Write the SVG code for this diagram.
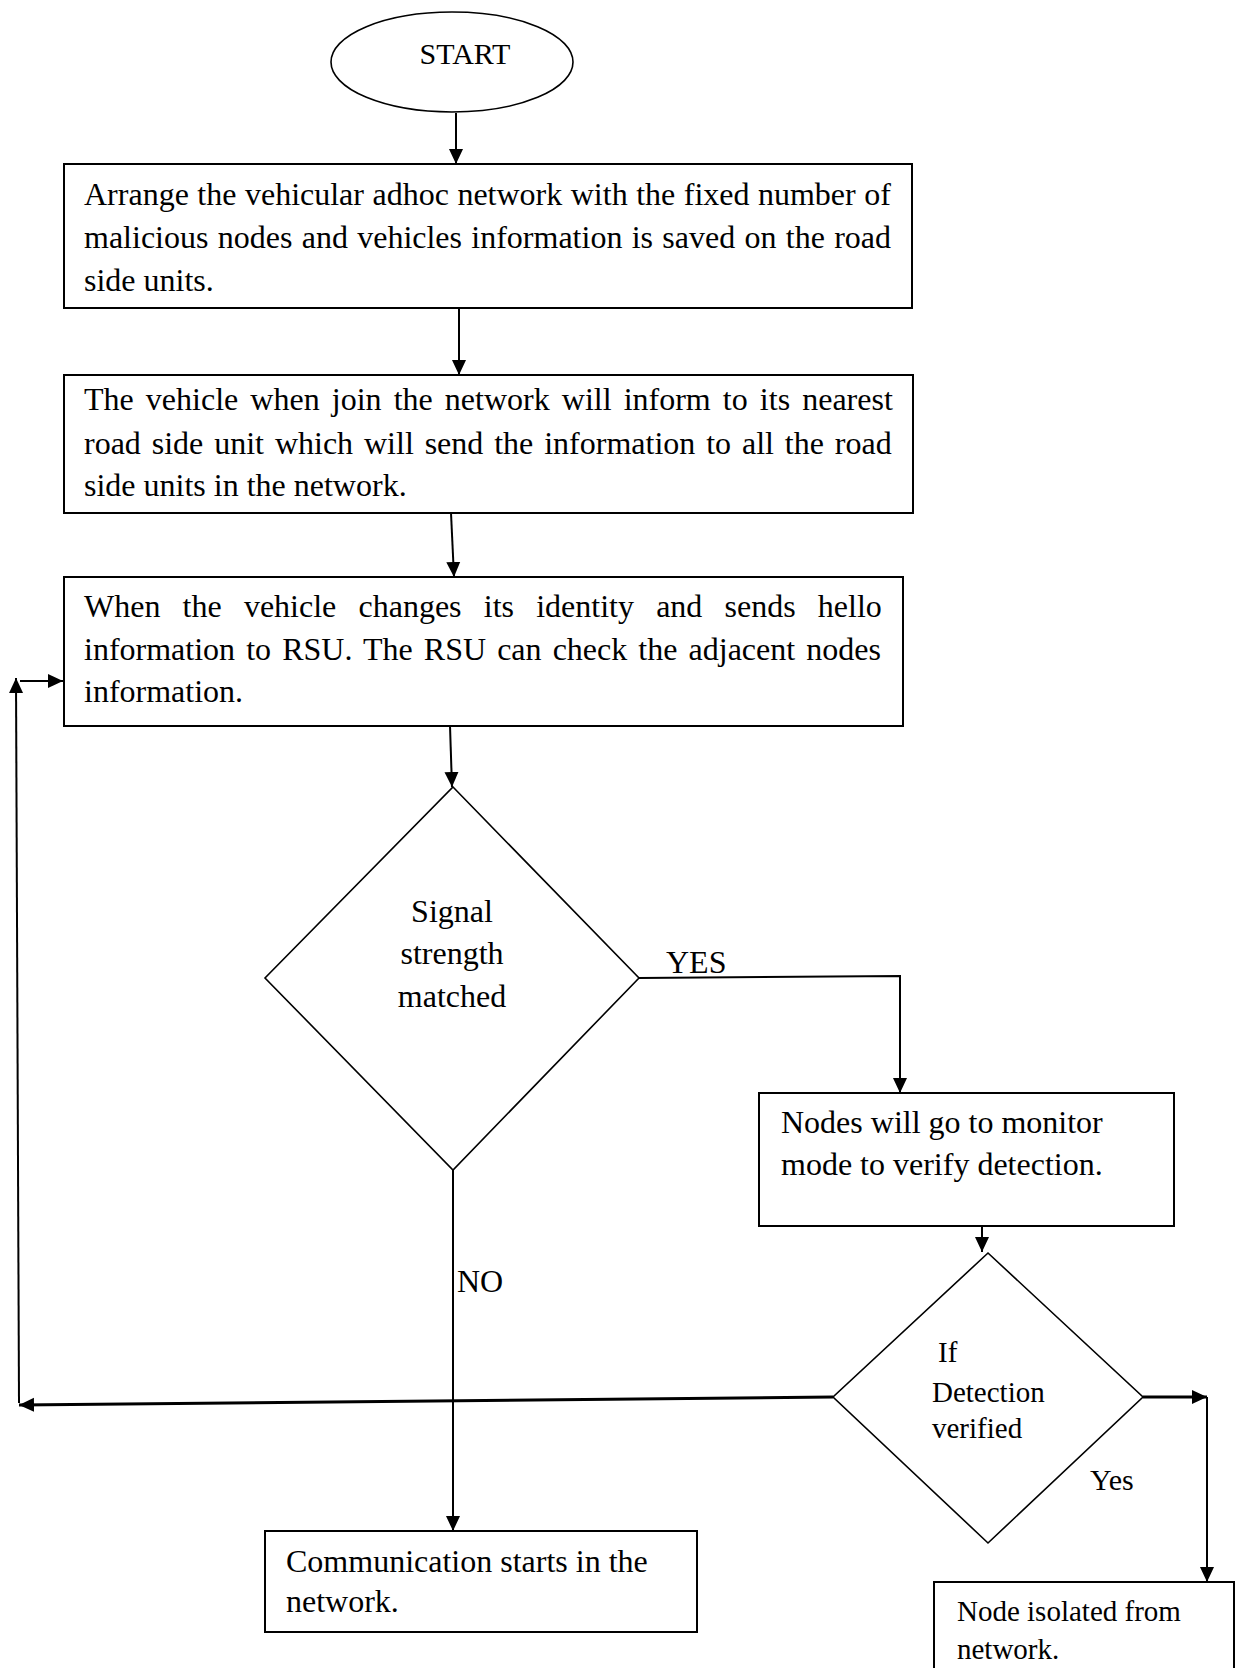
<svg xmlns="http://www.w3.org/2000/svg" width="1241" height="1668" viewBox="0 0 1241 1668">
  <defs>
    <marker id="arrow" markerUnits="userSpaceOnUse" markerWidth="16" markerHeight="16" viewBox="0 0 16 16" refX="15" refY="7.5" orient="auto">
      <path d="M0,0.5 L15,7.5 L0,14.5 z" fill="#000"/>
    </marker>
    <style>
      text { font-family: "Liberation Serif", "Times New Roman", serif; fill: #000; }
      .body { font-size: 32px; }
      .small { font-size: 29px; }
      .box { fill: #fff; stroke: #000; stroke-width: 2; }
      .shape { fill: #fff; stroke: #000; stroke-width: 1.6; }
      .link { fill: none; stroke: #000; stroke-width: 2; marker-end: url(#arrow); }
    </style>
  </defs>
  <rect width="1241" height="1668" fill="#fff"/>

  <!-- connectors -->
  <g id="connectors">
    <line class="link" x1="456" y1="113" x2="456" y2="164"/>
    <line class="link" x1="459" y1="308" x2="459" y2="375"/>
    <line class="link" x1="451" y1="513" x2="454" y2="577"/>
    <line class="link" x1="450" y1="726" x2="452" y2="787"/>
    <!-- YES branch -->
    <polyline class="link" points="639,978 900,976 900,1093"/>
    <!-- NO branch -->
    <line class="link" x1="453" y1="1170" x2="453" y2="1531"/>
    <line class="link" x1="982" y1="1226" x2="982" y2="1252"/>
    <!-- loop back to the RSU check -->
    <line class="link" x1="833" y1="1397" x2="19" y2="1405" style="stroke-width:3"/>
    <line class="link" x1="19" y1="1403" x2="16" y2="678"/>
    <line class="link" x1="20" y1="681" x2="63" y2="681"/>
    <!-- detection verified: Yes -->
    <line class="link" x1="1143" y1="1397" x2="1207" y2="1397" style="stroke-width:3"/>
    <line class="link" x1="1207" y1="1397" x2="1207" y2="1582"/>
    <text class="body" x="666" y="973">YES</text>
    <text class="body" x="457" y="1292">NO</text>
    <text x="1090" y="1490" style="font-size:30px">Yes</text>
  </g>

  <g id="start">
    <ellipse class="shape" cx="452" cy="62" rx="121" ry="50"/>
    <text x="465" y="64" text-anchor="middle" style="font-size:30px">START</text>
  </g>

  <g id="arrange">
    <rect class="box" x="64" y="164" width="848" height="144"/>
    <text class="body" x="84" y="205" style="word-spacing:0.5px">Arrange the vehicular adhoc network with the fixed number of</text>
    <text class="body" x="84" y="248" style="word-spacing:1.3px">malicious nodes and vehicles information is saved on the road</text>
    <text class="body" x="84" y="291">side units.</text>
  </g>

  <g id="join">
    <rect class="box" x="64" y="375" width="849" height="138"/>
    <text class="body" x="84" y="410" style="word-spacing:4.1px">The vehicle when join the network will inform to its nearest</text>
    <text class="body" x="84" y="454" style="word-spacing:2.9px">road side unit which will send the information to all the road</text>
    <text class="body" x="84" y="496">side units in the network.</text>
  </g>

  <g id="identity">
    <rect class="box" x="64" y="577" width="839" height="149"/>
    <text class="body" x="84" y="617" style="word-spacing:14.2px">When the vehicle changes its identity and sends hello</text>
    <text class="body" x="84" y="660" style="word-spacing:3.1px">information to RSU. The RSU can check the adjacent nodes</text>
    <text class="body" x="84" y="702">information.</text>
  </g>

  <g id="signal">
    <polygon class="shape" points="453,787 639,978 453,1170 265,978"/>
    <text class="body" x="452" y="922" text-anchor="middle">Signal</text>
    <text class="body" x="452" y="964" text-anchor="middle">strength</text>
    <text class="body" x="452" y="1007" text-anchor="middle">matched</text>
  </g>

  <g id="monitor">
    <rect class="box" x="759" y="1093" width="415" height="133"/>
    <text class="body" x="781" y="1133">Nodes will go to monitor</text>
    <text class="body" x="781" y="1175">mode to verify detection.</text>
  </g>

  <g id="verify">
    <polygon class="shape" points="988,1253 1143,1397 988,1543 833,1397"/>
    <text class="small" x="938" y="1362">If</text>
    <text class="small" x="932" y="1402">Detection</text>
    <text class="small" x="932" y="1438">verified</text>
  </g>

  <g id="communication">
    <rect class="box" x="265" y="1531" width="432" height="101"/>
    <text class="body" x="286" y="1572">Communication starts in the</text>
    <text class="body" x="286" y="1612">network.</text>
  </g>

  <g id="isolated">
    <rect class="box" x="934" y="1582" width="300" height="120"/>
    <text class="small" x="957" y="1621">Node isolated from</text>
    <text class="small" x="957" y="1659">network.</text>
  </g>
</svg>
